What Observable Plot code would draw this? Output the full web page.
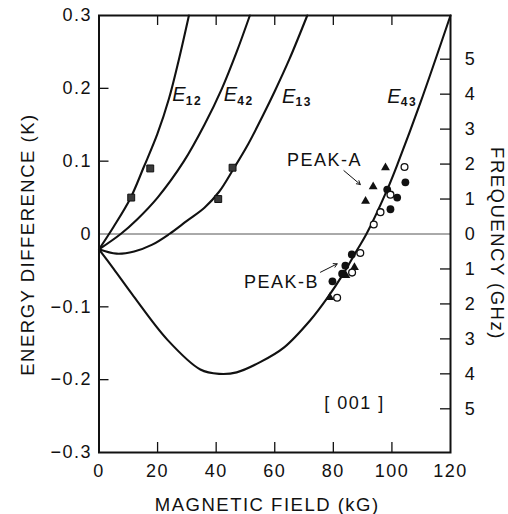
<!DOCTYPE html>
<html>
<head>
<meta charset="utf-8">
<script src="https://cdn.jsdelivr.net/npm/d3@7"></script>
<script src="https://cdn.jsdelivr.net/npm/@observablehq/plot@0.6"></script>
<style>
  html, body { margin: 0; padding: 0; background: #fff; }
  #chart svg { display: block; }
  #chart svg text { letter-spacing: 1.5px; }
  #chart g[aria-label="axis-title"] text { letter-spacing: 2.2px; }
  #chart g[aria-label="axis-title-r"] text { letter-spacing: 1.6px; }
  #chart g[aria-label="curve-E"] text, #chart g[aria-label="curve-sub"] text { letter-spacing: 0px; }
</style>
</head>
<body>
<div id="chart"></div>
<script>
// ---- data (kG, K) ----
const E12 = [[0,-0.021],[5,0.010],[10.6,0.048],[15.4,0.093],[19.9,0.137],[23.9,0.186],[27.3,0.240],[30.7,0.300]];
const E42 = [[0,-0.021],[7.4,0.0],[13,0.020],[20,0.050],[29,0.100],[36,0.150],[42,0.200],[47,0.250],[51.5,0.300]];
const E13 = [[0,-0.021],[6,-0.027],[12,-0.024],[18,-0.015],[24,0.0],[30,0.018],[36,0.036],[41,0.058],[46,0.090],[51,0.124],[56,0.163],[60,0.196],[65,0.240],[71.1,0.300]];
const E43 = [[0,-0.021],[5,-0.048],[11.9,-0.086],[23.3,-0.145],[34.6,-0.186],[41,-0.192],[47,-0.190],[55,-0.176],[63.1,-0.156],[72.2,-0.118],[77.9,-0.088],[83.5,-0.054],[88.1,-0.022],[91.3,0.0],[98.4,0.061],[102.3,0.100],[109.7,0.180],[120,0.300]];

const squares = [[11,0.050],[17.5,0.090],[40.7,0.048],[45.6,0.091]];
const triangles = [[97.8,0.091],[93.6,0.065],[91.0,0.045],[87.2,-0.046],[84.3,-0.057],[78.8,-0.087]];
const filledCircles = [[98.4,0.061],[101.8,0.050],[99.5,0.034],[104.6,0.071],[86.3,-0.028],[84.1,-0.0435],[83.0,-0.0545],[79.7,-0.065]];
const openCircles = [[104.3,0.092],[99.5,0.054],[96.1,0.030],[93.8,0.013],[89.2,-0.026],[86.4,-0.053],[81.3,-0.0875]];

const curveNames = ["12","42","13","43"];
const curveLabelX = [25.0,42.6,62.5,98.4];
const curveLabelY = [0.191,0.191,0.189,0.189];

const peakNames = ["PEAK-A","PEAK-B"];
const peakLabelX = [77.0,62.3];
const peakLabelY = [0.101,-0.0666];
const peakArrows = [[83.6,0.087,89.2,0.068],[75.6,-0.0525,81.3,-0.041]];

const orientation = "[ 001 ]";
const orientationXY = [87.2,-0.233];

const xTickLabels = [0,20,40,60,80,100,120];
const xTickMarks = [20,40,60,80,100];
const yTickLabels = [-0.3,-0.2,-0.1,0,0.1,0.2,0.3];
const yTickMarks = [-0.2,-0.1,0.1,0.2];
const freqTicks = [-5,-4,-3,-2,-1,0,1,2,3,4,5];
const kelvinPerGHz = 0.048;

const xTitle = "MAGNETIC FIELD (kG)";
const yTitle = "ENERGY DIFFERENCE (K)";
const rTitle = "FREQUENCY (GHz)";

// ---- layout ----
const W = 508, H = 514, mL = 98.5, mR = 58, mT = 15, mB = 62;
const iw = W - mL - mR, ih = H - mT - mB;
const fnt = "Liberation Sans, Arial, sans-serif";
const fmtY = d => d === 0 ? "0" : (d < 0 ? "\u2212" : "") + Math.abs(d).toFixed(1);

const lineOpts = {x: d => d[0], y: d => d[1], curve: "catmull-rom", stroke: "#111", strokeWidth: 2.1};

const chart = Plot.plot({
  width: W, height: H,
  marginLeft: mL, marginRight: mR, marginTop: mT, marginBottom: mB,
  x: {domain: [0, 120]},
  y: {domain: [-0.3, 0.3]},
  style: {fontFamily: fnt, fontSize: "18px", color: "#111", background: "#fff"},
  marks: [
    Plot.ruleY([0], {stroke: "#555", strokeWidth: 1}),
    Plot.line(E12, lineOpts),
    Plot.line(E42, lineOpts),
    Plot.line(E13, lineOpts),
    Plot.line(E43, lineOpts),
    // inward ticks
    Plot.tickX(xTickMarks, {x: d => d, insetTop: ih - 10, stroke: "#111", strokeWidth: 1.3}),
    Plot.tickX(xTickMarks, {x: d => d, insetBottom: ih - 10, stroke: "#111", strokeWidth: 1.3}),
    Plot.tickY(yTickMarks, {y: d => d, insetRight: iw - 10, stroke: "#111", strokeWidth: 1.3}),
    Plot.tickY(freqTicks.filter(f => f !== 0), {y: f => f * kelvinPerGHz, insetLeft: iw - 10, stroke: "#111", strokeWidth: 1.3}),
    // tick labels
    Plot.axisX(xTickLabels, {tickSize: 0, tickPadding: 12, label: null, fontSize: 18, tickFormat: d => String(d)}),
    Plot.axisY(yTickLabels, {tickSize: 0, tickPadding: 7, label: null, fontSize: 18, tickFormat: fmtY}),
    Plot.text(freqTicks, {y: f => f * kelvinPerGHz, text: f => String(Math.abs(f)), frameAnchor: "right", dx: 20, textAnchor: "middle", fontSize: 18, fill: "#111"}),
    Plot.frame({stroke: "#111", strokeWidth: 2}),
    // data markers
    Plot.dot(squares, {x: d => d[0], y: d => d[1], symbol: "square", r: 3.9, fill: "#3a3a3a", stroke: "#111", strokeWidth: 1}),
    Plot.dot(triangles, {x: d => d[0], y: d => d[1], symbol: "triangle", r: 3.3, fill: "#111", stroke: "none"}),
    Plot.dot(filledCircles, {x: d => d[0], y: d => d[1], r: 3.9, fill: "#111", stroke: "none"}),
    Plot.dot(openCircles, {x: d => d[0], y: d => d[1], r: 3.4, fill: "#fff", stroke: "#111", strokeWidth: 1.3}),
    // annotations
    Plot.arrow(peakArrows, {x1: d => d[0], y1: d => d[1], x2: d => d[2], y2: d => d[3], stroke: "#111", strokeWidth: 1, headLength: 6}),
    Plot.text(peakNames, {x: (d, i) => peakLabelX[i], y: (d, i) => peakLabelY[i], text: d => d, fontSize: 18, fill: "#111"}),
    Plot.text([orientation], {x: () => orientationXY[0], y: () => orientationXY[1], text: d => d, fontSize: 18, fill: "#111"}),
    Plot.text(curveNames, {x: (d, i) => curveLabelX[i], y: (d, i) => curveLabelY[i], text: () => "E", textAnchor: "start", fontStyle: "italic", fontSize: 20, fill: "#111", ariaLabel: "curve-E"}),
    Plot.text(curveNames, {x: (d, i) => curveLabelX[i], y: (d, i) => curveLabelY[i], text: d => d, textAnchor: "start", dx: 13.5, dy: 6, fontSize: 12, fontWeight: "bold", fill: "#111", ariaLabel: "curve-sub"}),
    // axis titles
    Plot.text([xTitle], {frameAnchor: "bottom", textAnchor: "middle", lineAnchor: "middle", dx: -7.5, dy: 53, text: d => d, fontSize: 18.5, fill: "#111", ariaLabel: "axis-title"}),
    Plot.text([yTitle], {frameAnchor: "left", textAnchor: "middle", lineAnchor: "middle", rotate: -90, dx: -71, dy: 10.5, text: d => d, fontSize: 18.5, fill: "#111", ariaLabel: "axis-title"}),
    Plot.text([rTitle], {frameAnchor: "right", textAnchor: "middle", lineAnchor: "middle", rotate: 90, dx: 46, dy: 9.5, text: d => d, fontSize: 18.5, fill: "#111", ariaLabel: "axis-title-r"})
  ]
});
document.getElementById("chart").appendChild(chart);
</script>
</body>
</html>
